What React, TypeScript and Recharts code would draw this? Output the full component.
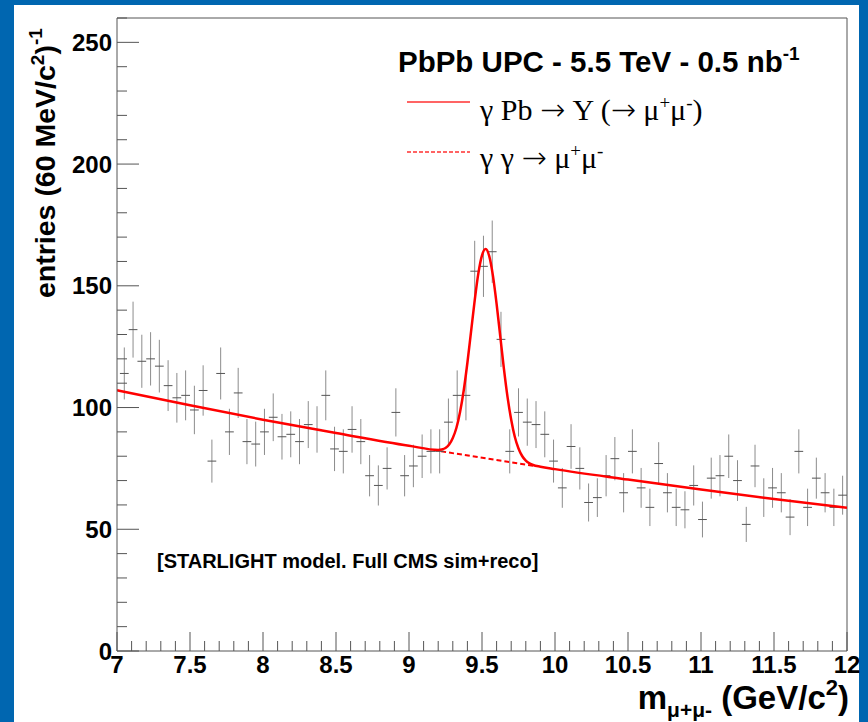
import React from 'react';
import { ComposedChart, XAxis, YAxis, Scatter, Line, ErrorBar, ReferenceLine } from 'recharts';

// Histogram definition: 60 MeV bins starting at 7.02 GeV
const histLow = 7.02;
const binWidth = 0.06;

// Entries per bin (dimuon invariant mass)
const counts = [
  114, 132, 119, 120, 117, 109, 104, 105, 99, 107,
  78, 114, 90, 106, 86, 85, 90, 96, 88, 89,
  86, 93, 91, 105, 83, 82, 91, 86, 72, 68,
  75, 98, 72, 76, 80, 82, 82, 94, 105, 105,
  156, 158, 164, 128, 82, 98, 94, 93, 89, 78,
  67, 84, 75, 61, 63, 72, 79, 65, 82, 67,
  59, 77, 65, 59, 58, 68, 54, 71, 72, 80,
  70, 52, 76, 63, 67, 65, 55, 82, 59, 71,
  65, 59, 64,
];

// Total fit: Upsilon peak on top of the gamma-gamma continuum
const fitX = [7, 7.5, 8, 8.5, 9, 9.2, 9.225, 9.25, 9.275, 9.3, 9.325, 9.35, 9.375, 9.4, 9.425, 9.45, 9.475, 9.5, 9.525, 9.55, 9.575, 9.6, 9.625, 9.65, 9.675, 9.7, 9.725, 9.75, 9.775, 9.8, 9.825, 9.85, 9.9, 10, 10.5, 11, 11.5, 12];
const fitY = [107.1, 100.9, 95.0, 89.5, 84.3, 82.6, 82.8, 83.4, 84.8, 87.5, 91.7, 98.3, 107.1, 118.4, 131.2, 144.0, 155.1, 162.5, 165.1, 162.1, 154.1, 142.6, 129.3, 116.0, 104.3, 95.0, 87.9, 83.2, 80.1, 78.2, 77.1, 76.4, 75.7, 74.7, 70.4, 66.3, 62.4, 58.8];

// Continuum under the peak
const bkgX = [9.22, 9.53, 9.85];
const bkgY = [82.0, 79.1, 76.1];

const xMajorTicks = [7, 7.5, 8, 8.5, 9, 9.5, 10, 10.5, 11, 11.5, 12];
const xTickLabels = ['7', '7.5', '8', '8.5', '9', '9.5', '10', '10.5', '11', '11.5', '12'];
const yMajorTicks = [0, 50, 100, 150, 200, 250];
const yTickLabels = ['0', '50', '100', '150', '200', '250'];

const points = counts.map((c, i) => ({
  x: histLow + binWidth * (i + 0.5),
  y: c,
  ey: Math.sqrt(c),
  ex: binWidth / 2,
}));
const fitData = fitX.map((x, i) => ({ x, y: fitY[i] }));
const bkgData = bkgX.map((x, i) => ({ x, y: bkgY[i] }));

// Minor ticks every 0.1 GeV and every 10 entries
const xMinor: number[] = [];
for (let k = 0; k <= 50; k++) xMinor.push(Math.round((7 + k * 0.1) * 10) / 10);
const yMinor: number[] = [];
for (let k = 0; k <= 26; k++) yMinor.push(k * 10);

const SANS = '"Liberation Sans", Arial, Helvetica, sans-serif';
const SERIF = '"Liberation Serif", "Times New Roman", serif';
const ARROW_FONT = '"DejaVu Sans", sans-serif';
const AXIS = '#555';

const XTick = (props: any) => {
  const { x, y, payload } = props;
  const v = payload.value;
  const idx = xMajorTicks.findIndex((m) => Math.abs(m - v) < 1e-6);
  const major = idx >= 0;
  return (
    <g>
      <line x1={x} y1={y} x2={x} y2={y - (major ? 19 : 10)} stroke={AXIS} strokeWidth={1} />
      {major && (
        <text x={x} y={y + 22} textAnchor="middle" fontFamily={SANS} fontWeight="bold" fontSize={24} fill="#000">
          {xTickLabels[idx]}
        </text>
      )}
    </g>
  );
};

const YTick = (props: any) => {
  const { x, y, payload } = props;
  const v = payload.value;
  const idx = yMajorTicks.findIndex((m) => Math.abs(m - v) < 1e-6);
  const major = idx >= 0;
  return (
    <g>
      <line x1={x} y1={y} x2={x + (major ? 22 : 10)} y2={y} stroke={AXIS} strokeWidth={1} />
      {major && (
        <text x={x - 5} y={y + 8.5} textAnchor="end" fontFamily={SANS} fontWeight="bold" fontSize={24} fill="#000">
          {yTickLabels[idx]}
        </text>
      )}
    </g>
  );
};

const Empty = () => <g />;

const Arrow = () => (
  <tspan fontFamily={ARROW_FONT} fontSize={30} fontWeight="300">→</tspan>
);

export default function App() {
  return (
    <div style={{ position: 'absolute', left: 0, top: 0, width: 868, height: 722, background: '#0066b0', overflow: 'hidden' }}>
      <div style={{ position: 'absolute', left: 14, top: 5, width: 845, height: 717, background: '#fff' }} />
      <div style={{ position: 'absolute', left: 0, top: 0 }}>
        <ComposedChart width={868} height={722} margin={{ top: 18, right: 21, bottom: 0, left: 0 }}>
          <XAxis
            type="number"
            dataKey="x"
            domain={[7, 12]}
            ticks={xMinor}
            interval={0}
            tickSize={0}
            tickMargin={0}
            tick={<XTick />}
            height={71}
            axisLine={{ stroke: AXIS, strokeWidth: 1 }}
            allowDataOverflow
          />
          <YAxis
            type="number"
            dataKey="y"
            domain={[0, 260]}
            ticks={yMinor}
            interval={0}
            tickSize={0}
            tickMargin={0}
            tick={<YTick />}
            width={117}
            axisLine={{ stroke: AXIS, strokeWidth: 1 }}
            allowDataOverflow
          />
          <ReferenceLine y={260} stroke={AXIS} strokeWidth={1} />
          <ReferenceLine x={12} stroke={AXIS} strokeWidth={1} />
          <Line
            data={bkgData}
            dataKey="y"
            type="linear"
            stroke="#ff0000"
            strokeWidth={2}
            strokeDasharray="5 3"
            dot={false}
            activeDot={false}
            isAnimationActive={false}
          />
          <Scatter data={points} dataKey="y" shape={<Empty />} isAnimationActive={false}>
            <ErrorBar dataKey="ey" direction="y" width={0} stroke="#8c8c8c" strokeWidth={1} isAnimationActive={false} />
            <ErrorBar dataKey="ex" direction="x" width={0} stroke="#555" strokeWidth={1} isAnimationActive={false} />
          </Scatter>
          <Line
            data={fitData}
            dataKey="y"
            type="monotone"
            stroke="#ff0000"
            strokeWidth={2.5}
            dot={false}
            activeDot={false}
            isAnimationActive={false}
          />
        </ComposedChart>
      </div>
      <svg width={868} height={722} style={{ position: 'absolute', left: 0, top: 0, pointerEvents: 'none' }}>
        {/* y-axis title */}
        <text transform="translate(55,298) rotate(-90)" fontFamily={SANS} fontWeight="bold" fontSize={28.5} fill="#000">
          entries (60 MeV/c<tspan dy={-11} fontSize={19}>2</tspan>
          <tspan dy={11}>)</tspan>
          <tspan dy={-13} fontSize={19}>-1</tspan>
        </text>
        {/* x-axis title */}
        <text x={849} y={709} textAnchor="end" fontFamily={SANS} fontWeight="bold" fontSize={33} fill="#000">
          m<tspan dy={8} fontSize={21}>μ+μ-</tspan>
          <tspan dy={-8}> (GeV/c</tspan>
          <tspan dy={-14} fontSize={22}>2</tspan>
          <tspan dy={14}>)</tspan>
        </text>
        {/* legend */}
        <text x={398} y={72} fontFamily={SANS} fontWeight="bold" fontSize={29.5} fill="#000">
          PbPb UPC - 5.5 TeV - 0.5 nb<tspan dy={-12} fontSize={19}>-1</tspan>
        </text>
        <line x1={407} y1={102} x2={470} y2={102} stroke="#ff3030" strokeWidth={1.5} />
        <text x={480} y={120} fontFamily={SERIF} fontSize={30} fill="#000">
          {'γ Pb '}<Arrow />{' Υ ('}<Arrow />{' μ'}<tspan dy={-11} fontSize={19}>+</tspan>
          <tspan dy={11}>μ</tspan>
          <tspan dy={-11} fontSize={19}>-</tspan>
          <tspan dy={11}>)</tspan>
        </text>
        <line x1={407} y1={152} x2={470} y2={152} stroke="#ff3030" strokeWidth={1.5} strokeDasharray="4 2" />
        <text x={480} y={168} fontFamily={SERIF} fontSize={30} fill="#000">
          {'γ γ '}<Arrow />{' μ'}<tspan dy={-11} fontSize={19}>+</tspan>
          <tspan dy={11}>μ</tspan>
          <tspan dy={-11} fontSize={19}>-</tspan>
        </text>
        {/* annotation */}
        <text x={157} y={568} fontFamily={SANS} fontWeight="bold" fontSize={20} fill="#000">
          [STARLIGHT model. Full CMS sim+reco]
        </text>
      </svg>
    </div>
  );
}
